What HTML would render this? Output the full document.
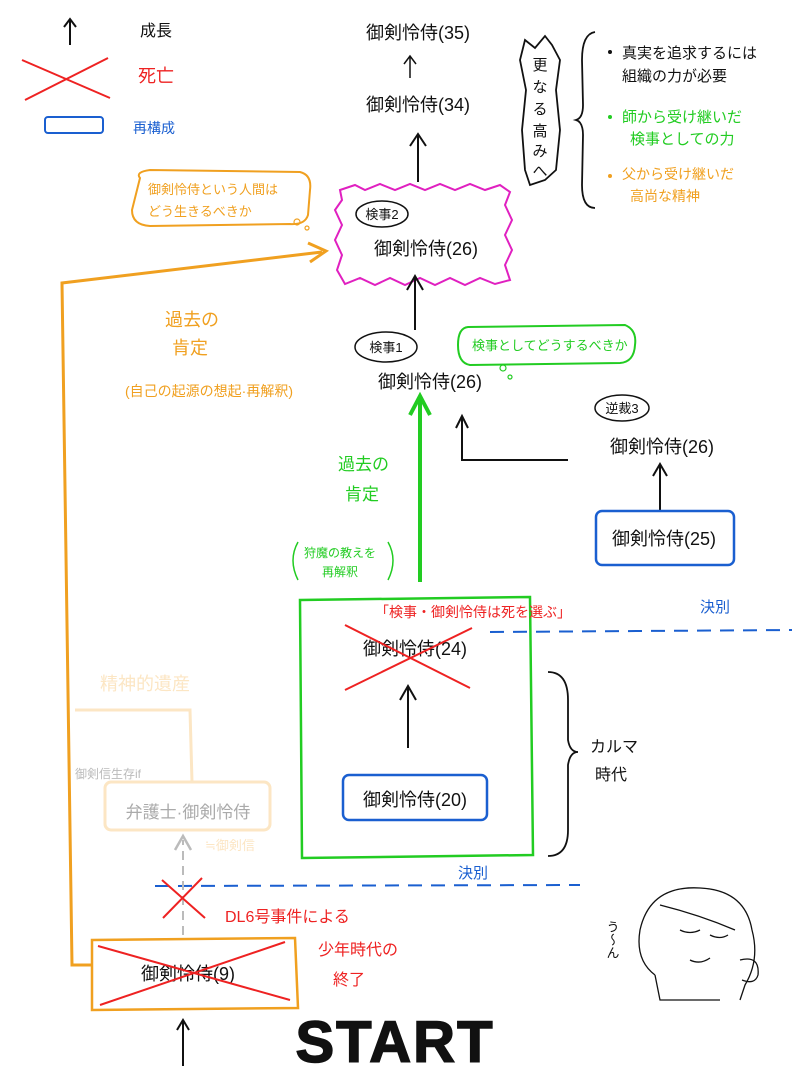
<!DOCTYPE html>
<html><head><meta charset="utf-8"><style>
body{margin:0;background:#fff}
svg{display:block}
text{font-family:"Liberation Sans","Noto Sans CJK JP",sans-serif}
</style></head><body>
<svg width="800" height="1066" viewBox="0 0 800 1066" xmlns="http://www.w3.org/2000/svg">
<!-- legend -->
<line x1="70" y1="45" x2="70" y2="20" stroke="#111" stroke-width="2"/><path d="M64,27 L70,19 L76,27" fill="none" stroke="#111" stroke-width="2"/>
<text x="140" y="36" font-size="16" fill="#111">成長</text>
<path d="M22,60 L110,98 M108,58 L25,100" stroke="#e22" stroke-width="2"/>
<text x="138" y="82" font-size="18" fill="#e22">死亡</text>
<rect x="45" y="117" width="58" height="16" rx="3" fill="none" stroke="#1a5fd0" stroke-width="2"/>
<text x="133" y="133" font-size="14" fill="#1a5fd0">再構成</text>

<!-- top -->
<text x="418" y="39" font-size="18" text-anchor="middle" fill="#111">御剣怜侍(35)</text>
<path d="M410,78 L410,57 M404,64 L410,56 L416,64" stroke="#111" stroke-width="1.5" fill="none"/>
<text x="418" y="111" font-size="18" text-anchor="middle" fill="#111">御剣怜侍(34)</text>
<path d="M418,182 L418,136 M410,146 L418,134 L426,146" stroke="#111" stroke-width="2" fill="none"/>

<!-- 更なる高みへ -->
<path d="M525,40 L535,48 L545,36 L552,45 L560,60 L556,90 L560,130 L556,170 L545,180 L530,185 L525,170 L522,130 L526,90 L520,60 Z" fill="none" stroke="#111" stroke-width="1.8"/>
<text font-size="15" fill="#111" x="540" y="70" text-anchor="middle">更</text>
<text font-size="15" fill="#111" x="540" y="92" text-anchor="middle">な</text>
<text font-size="15" fill="#111" x="540" y="114" text-anchor="middle">る</text>
<text font-size="15" fill="#111" x="540" y="136" text-anchor="middle">高</text>
<text font-size="15" fill="#111" x="540" y="156" text-anchor="middle">み</text>
<text font-size="15" fill="#111" x="540" y="176" text-anchor="middle">へ</text>
<path d="M595,32 Q582,34 582,60 L583,105 Q583,118 576,120 Q583,122 583,135 L582,185 Q582,208 595,208" fill="none" stroke="#111" stroke-width="1.8"/>
<circle cx="610" cy="52" r="2" fill="#111"/>
<text x="622" y="58" font-size="15" fill="#111">真実を追求するには</text>
<text x="622" y="81" font-size="15" fill="#111">組織の力が必要</text>
<circle cx="610" cy="117" r="2" fill="#2c2"/>
<text x="622" y="122" font-size="15" fill="#2c2">師から受け継いだ</text>
<text x="630" y="144" font-size="15" fill="#2c2">検事としての力</text>
<circle cx="610" cy="176" r="2" fill="#f0a020"/>
<text x="622" y="179" font-size="14" fill="#f0a020">父から受け継いだ</text>
<text x="630" y="201" font-size="14" fill="#f0a020">高尚な精神</text>

<!-- magenta spiky box -->
<path d="M340,190 L355,185 L365,190 L380,184 L395,190 L410,184 L425,190 L440,184 L455,190 L470,184 L485,190 L500,185 L510,192 L505,205 L512,220 L505,235 L512,250 L505,265 L510,280 L495,284 L480,278 L465,285 L450,278 L435,285 L420,278 L405,285 L390,278 L375,285 L360,278 L345,284 L337,270 L342,255 L335,240 L342,225 L335,210 L342,200 Z" fill="none" stroke="#e020c0" stroke-width="2"/>
<ellipse cx="382" cy="214" rx="26" ry="13" fill="#fff" stroke="#111" stroke-width="1.5"/>
<text x="382" y="219" font-size="13" text-anchor="middle" fill="#111">検事2</text>
<text x="426" y="255" font-size="18" text-anchor="middle" fill="#111">御剣怜侍(26)</text>
<path d="M415,330 L415,278 M407,290 L415,276 L423,290" stroke="#111" stroke-width="2" fill="none"/>

<!-- orange bubble -->
<path d="M140,178 Q135,172 150,170 L300,172 Q312,175 310,190 L308,215 Q305,225 290,224 L150,226 Q132,225 132,210 Z" fill="none" stroke="#f0a020" stroke-width="2"/>
<text x="148" y="194" font-size="13" fill="#f0a020">御剣怜侍という人間は</text>
<text x="148" y="216" font-size="13" fill="#f0a020">どう生きるべきか</text>
<circle cx="297" cy="222" r="3" fill="none" stroke="#f0a020" stroke-width="1.2"/>
<circle cx="307" cy="228" r="2" fill="none" stroke="#f0a020" stroke-width="1.2"/>

<!-- 検事1 -->
<ellipse cx="386" cy="347" rx="31" ry="15" fill="#fff" stroke="#111" stroke-width="1.5"/>
<text x="386" y="352" font-size="13" text-anchor="middle" fill="#111">検事1</text>
<text x="430" y="388" font-size="18" text-anchor="middle" fill="#111">御剣怜侍(26)</text>
<path d="M468,327 L625,325 Q637,330 635,345 Q634,362 620,363 L470,365 Q458,363 458,345 Q458,328 468,327 Z" fill="none" stroke="#2c2" stroke-width="2"/>
<text x="472" y="350" font-size="13" fill="#2c2">検事としてどうするべきか</text>
<circle cx="503" cy="368" r="3" fill="none" stroke="#2c2" stroke-width="1.2"/>
<circle cx="510" cy="377" r="2" fill="none" stroke="#2c2" stroke-width="1.2"/>

<!-- green arrow -->
<path d="M420,582 L420,400 M410,415 L420,396 L430,415" stroke="#2c2" stroke-width="4" fill="none"/>
<text x="338" y="470" font-size="17" fill="#2c2">過去の</text>
<text x="345" y="500" font-size="17" fill="#2c2">肯定</text>
<path d="M298,542 Q288,560 298,580" fill="none" stroke="#2c2" stroke-width="1.5"/>
<path d="M388,542 Q398,560 388,580" fill="none" stroke="#2c2" stroke-width="1.5"/>
<text x="304" y="557" font-size="12" fill="#2c2">狩魔の教えを</text>
<text x="322" y="576" font-size="12" fill="#2c2">再解釈</text>

<!-- 逆裁3 -->
<ellipse cx="622" cy="408" rx="27" ry="13" fill="#fff" stroke="#111" stroke-width="1.5"/>
<text x="622" y="413" font-size="13" text-anchor="middle" fill="#111">逆裁3</text>
<text x="662" y="453" font-size="18" text-anchor="middle" fill="#111">御剣怜侍(26)</text>
<path d="M660,510 L660,466 M653,476 L660,464 L667,476" stroke="#111" stroke-width="2" fill="none"/>
<path d="M568,460 L462,460 L462,418 M456,428 L462,416 L468,428" stroke="#111" stroke-width="2" fill="none"/>
<rect x="596" y="511" width="138" height="54" rx="6" fill="none" stroke="#1a5fd0" stroke-width="2.5"/>
<text x="664" y="545" font-size="18" text-anchor="middle" fill="#111">御剣怜侍(25)</text>

<!-- green box -->
<path d="M300,600 L530,597 L533,855 L302,858 Z" fill="none" stroke="#2c2" stroke-width="2.5"/>
<text x="375" y="617" font-size="14" fill="#e22">「検事・御剣怜侍は死を選ぶ」</text>
<text x="415" y="655" font-size="18" text-anchor="middle" fill="#111">御剣怜侍(24)</text>
<path d="M345,625 L470,688 M472,628 L345,690" stroke="#e22" stroke-width="2"/>
<path d="M408,748 L408,688 M400,700 L408,686 L416,700" stroke="#111" stroke-width="2" fill="none"/>
<rect x="343" y="775" width="144" height="45" rx="6" fill="none" stroke="#1a5fd0" stroke-width="2.5"/>
<text x="415" y="806" font-size="18" text-anchor="middle" fill="#111">御剣怜侍(20)</text>
<path d="M548,672 Q568,672 568,700 L568,740 Q570,752 578,752 Q570,752 568,765 L568,830 Q568,856 548,856" fill="none" stroke="#111" stroke-width="1.8"/>
<text x="590" y="752" font-size="16" fill="#111">カルマ</text>
<text x="595" y="780" font-size="16" fill="#111">時代</text>

<line x1="490" y1="632" x2="792" y2="630" stroke="#1a5fd0" stroke-width="2" stroke-dasharray="14,9"/>
<text x="700" y="612" font-size="15" fill="#1a5fd0">決別</text>
<line x1="155" y1="886" x2="580" y2="885" stroke="#1a5fd0" stroke-width="2" stroke-dasharray="14,9"/>
<text x="458" y="878" font-size="15" fill="#1a5fd0">決別</text>

<!-- faint -->
<text x="100" y="690" font-size="18" fill="#fce6c4">精神的遺産</text>
<path d="M75,710 L190,710 L192,782" fill="none" stroke="#fce6c4" stroke-width="3"/>
<text x="75" y="778" font-size="12" fill="#bbb">御剣信生存if</text>
<rect x="105" y="782" width="165" height="48" rx="6" fill="none" stroke="#fce6c4" stroke-width="3"/>
<text x="188" y="818" font-size="17" text-anchor="middle" fill="#aaa">弁護士·御剣怜侍</text>
<text x="205" y="850" font-size="13" fill="#fce6c4">≒御剣信</text>
<path d="M183,935 L183,840" stroke="#bbb" stroke-width="2" stroke-dasharray="9,6"/>
<path d="M175,850 L183,836 L191,850" stroke="#bbb" stroke-width="2.5" fill="none"/>

<!-- orange path -->
<path d="M92,965 L72,965 L62,283 L322,252" fill="none" stroke="#f0a020" stroke-width="3"/>
<path d="M308,243 L326,251 L310,262" fill="none" stroke="#f0a020" stroke-width="3"/>
<text x="165" y="326" font-size="18" fill="#f0a020">過去の</text>
<text x="172" y="354" font-size="18" fill="#f0a020">肯定</text>
<text x="125" y="396" font-size="14" fill="#f0a020">(自己の起源の想起·再解釈)</text>
<path d="M92,940 L295,938 L298,1008 L92,1010 Z" fill="none" stroke="#f0a020" stroke-width="2.5"/>
<text x="188" y="980" font-size="18" text-anchor="middle" fill="#111">御剣怜侍(9)</text>
<path d="M98,946 L290,1000 M285,942 L100,1005" stroke="#e22" stroke-width="2"/>
<path d="M162,880 L205,918 M202,878 L163,918" stroke="#e22" stroke-width="2"/>
<text x="225" y="922" font-size="16" fill="#e22">DL6号事件による</text>
<text x="318" y="955" font-size="16" fill="#e22">少年時代の</text>
<text x="333" y="985" font-size="16" fill="#e22">終了</text>
<text x="395" y="1062" font-size="58" text-anchor="middle" fill="#111" stroke="#111" stroke-width="1.5" font-weight="bold" letter-spacing="2">START</text>
<line x1="183" y1="1066" x2="183" y2="1022" stroke="#111" stroke-width="2"/>
<path d="M177,1030 L183,1020 L189,1030" stroke="#111" stroke-width="2" fill="none"/>

<!-- doodle -->
<text x="612" y="920" font-size="13" fill="#111" writing-mode="tb">う～ん</text>
<path d="M640,930 Q650,885 700,888 Q745,890 752,930 Q760,960 745,985 L740,1000 M640,930 Q635,960 655,975 M660,905 Q700,915 735,930 M680,930 Q690,935 700,930 M710,935 Q720,940 728,935 M690,960 Q700,965 710,958 M655,975 L660,1000 L720,1000 M740,960 Q760,955 758,975 Q755,985 742,980" fill="none" stroke="#111" stroke-width="1.3"/>
</svg>
</body></html>
